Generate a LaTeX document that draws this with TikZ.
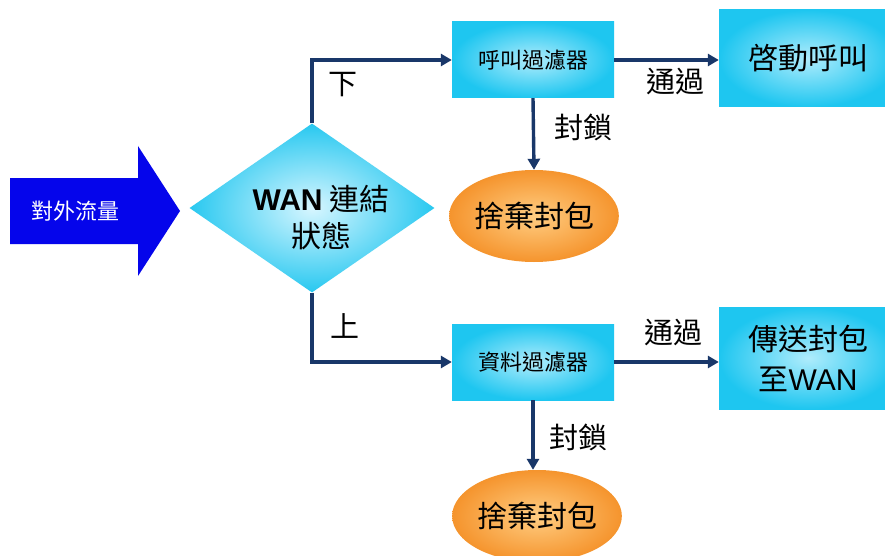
\documentclass[tikz,border=0pt]{standalone}
\usepackage{fontspec}
\setmainfont{Liberation Sans}
\newfontfamily\cjk{Noto Sans CJK TC}
\newfontfamily\latn{Liberation Sans}
\usetikzlibrary{shapes.geometric,arrows.meta}
\definecolor{boxcyan}{RGB}{30,198,240}
\definecolor{boxlight}{RGB}{175,236,252}
\definecolor{diacyan}{RGB}{40,200,240}
\definecolor{dialight}{RGB}{215,246,255}
\definecolor{orangeout}{RGB}{245,148,45}
\definecolor{orangein}{RGB}{255,205,130}
\definecolor{navy}{RGB}{25,55,105}
\definecolor{bigblue}{RGB}{5,5,235}
\begin{document}
\begin{tikzpicture}[x=1pt,y=-1pt,
  box/.style={rectangle, inner sep=0pt, inner color=boxlight, outer color=boxcyan, text=black},
  drop/.style={ellipse, inner sep=0pt, minimum width=162pt, minimum height=92pt, inner color=orangein, outer color=orangeout, text=black, font=\cjk\fontsize{30}{36}\selectfont},
  conn/.style={navy, line width=3.4pt, -{Triangle[length=11pt,width=12pt]}},
  lbl/.style={font=\cjk\fontsize{29}{34}\selectfont, inner sep=1pt, text=black},
]
\useasboundingbox (0,0) rectangle (885,556);
\fill[white] (0,0) rectangle (885,556);

% big input arrow
\fill[bigblue] (10,178) -- (138,178) -- (138,146) -- (180,211) -- (138,276) -- (138,244) -- (10,244) -- cycle;
\node[text=white, font=\cjk\fontsize{22}{26}\selectfont] (flow) at (75,211) {對外流量};

% decision diamond
\node[diamond, aspect=1.45, inner sep=0pt, minimum width=245pt, minimum height=169pt,
      inner color=dialight, outer color=diacyan] (dia) at (312,208) {};
\node[align=center, font=\cjk\fontsize{30}{37}\selectfont, text=black] (diatxt) at (321,218)
  {{\latn\bfseries WAN} 連結\\狀態};

% upper branch
\node[box, minimum width=162pt, minimum height=76pt, font=\cjk\fontsize{22}{26}\selectfont] (callf) at (533,60) {呼叫過濾器};
\node[box, minimum width=178pt, minimum height=97pt, font=\cjk\fontsize{30}{36}\selectfont] (start) at (808,58.5) {啓動呼叫};
\node[drop] (drop1) at (534,216) {捨棄封包};

% lower branch
\node[box, minimum width=162pt, minimum height=76pt, font=\cjk\fontsize{22}{26}\selectfont] (dataf) at (533,362) {資料過濾器};
\node[box, minimum width=178pt, minimum height=102pt, align=center, font=\cjk\fontsize{30}{40}\selectfont] (send) at (808,358) {傳送封包\\至{\latn WAN}};
\node[drop] (drop2) at (537,516) {捨棄封包};

% connectors
\draw[conn] (dia.north) |- (callf.west);
\draw[conn] (dia.south) |- (dataf.west);
\draw[conn] (callf.east) -- (callf.east -| start.west);
\draw[conn] (dataf.east) -- (dataf.east -| send.west);
\draw[conn] (callf.south) -- (drop1.north);
\draw[conn] (dataf.south) -- (dataf.south |- drop2.north);

% labels
\node[lbl] (ldown) at (343,85) {下};
\node[lbl] (lup) at (345,326) {上};
\node[lbl] (pass1) at (675,82) {通過};
\node[lbl] (pass2) at (673,333) {通過};
\node[lbl] (block1) at (583,127) {封鎖};
\node[lbl] (block2) at (578,437) {封鎖};
\end{tikzpicture}
\end{document}
